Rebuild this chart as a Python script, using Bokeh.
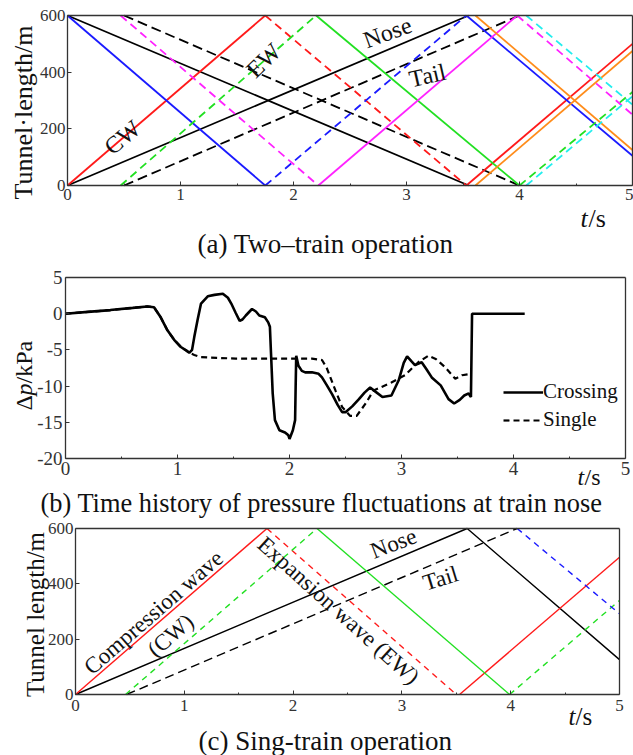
import math
from bokeh.plotting import figure
from bokeh.layouts import column
from bokeh.models import Label, FixedTicker, Range1d, Legend, LegendItem, LinearAxis
from bokeh.embed import file_html
from bokeh.resources import INLINE

SERIF = "Liberation Serif"

# ---------------- (a) Two-train operation : wave / train paths (t [s], x [m])
a_red_solid_t = [[0.0, 1.75], [3.53, 5.0]]
a_red_solid_x = [[0, 600], [0, 500]]
a_red_dash_t = [[1.75, 3.53]]
a_red_dash_x = [[600, 0]]
a_blue_solid_t = [[0.0, 1.75], [3.53, 5.0]]
a_blue_solid_x = [[600, 0], [600, 105]]
a_blue_dash_t = [[1.75, 3.53]]
a_blue_dash_x = [[0, 600]]
a_green_dash_t = [[0.47, 2.2], [4.0, 5.0]]
a_green_dash_x = [[0, 600], [0, 330]]
a_green_solid_t = [[2.2, 4.0]]
a_green_solid_x = [[600, 0]]
a_mag_dash_t = [[0.47, 2.22], [3.98, 5.0]]
a_mag_dash_x = [[600, 0], [600, 250]]
a_mag_solid_t = [[2.22, 3.98]]
a_mag_solid_x = [[0, 600]]
a_orange_t = [[3.61, 5.0], [3.61, 5.0]]
a_orange_x = [[0, 475], [600, 125]]
a_cyan_dash_t = [[4.06, 5.0], [4.06, 5.0]]
a_cyan_dash_x = [[0, 315], [600, 285]]
a_nose_t = [[0.0, 3.55], [0.0, 3.55]]
a_nose_x = [[0, 600], [600, 0]]
a_tail_t = [[0.5, 4.0], [0.5, 4.0]]
a_tail_x = [[0, 600], [600, 0]]

# ---------------- (b) pressure at train nose (t [s], dp [kPa])
cross_t = [0, 0.2, 0.4, 0.6, 0.73, 0.79, 0.85, 0.91, 0.97, 1.03, 1.08, 1.105, 1.13, 1.15,
           1.18, 1.21, 1.27, 1.33, 1.405, 1.45, 1.48, 1.52, 1.555, 1.58, 1.61, 1.665, 1.70,
           1.73, 1.78, 1.81, 1.825, 1.835, 1.85, 1.87, 1.91, 1.96, 1.99, 2.0, 2.03, 2.05,
           2.055, 2.06, 2.08, 2.11, 2.14, 2.20, 2.26, 2.29, 2.33, 2.38, 2.43, 2.47, 2.50,
           2.56, 2.62, 2.67, 2.72, 2.77, 2.83, 2.91, 2.975, 3.02, 3.05, 3.09, 3.12, 3.18,
           3.22, 3.27, 3.35, 3.42, 3.47, 3.52, 3.56, 3.60, 3.615, 3.62, 3.63, 4.10]
cross_p = [0, 0.25, 0.5, 0.8, 1.0, 0.9, -0.5, -2.3, -3.6, -4.6, -5.1, -5.4, -5.0, -3.2,
           -0.8, 1.4, 2.4, 2.6, 2.75, 2.2, 1.4, 0.1, -1.0, -0.8, -0.25, 0.65, 0.3,
           -0.25, -0.5, -1.2, -1.8, -5.5, -11.0, -14.7, -16.1, -16.4, -16.8, -17.3, -16.1, -14.7,
           -10.0, -5.8, -7.2, -7.9, -8.1, -8.1, -8.3, -8.8, -9.8, -11.1, -12.6, -13.6, -13.6,
           -12.8, -11.8, -10.9, -10.2, -10.8, -11.5, -11.3, -9.2, -6.8, -5.9, -6.6, -7.1, -6.7,
           -7.6, -8.8, -9.9, -11.8, -12.4, -11.9, -11.3, -11.0, -11.4, -11.5, 0, 0]
single_t = [0, 0.2, 0.4, 0.6, 0.73, 0.79, 0.85, 0.91, 0.97, 1.03, 1.08, 1.105, 1.15, 1.21,
            1.35, 1.52, 1.7, 1.9, 2.1, 2.20, 2.29, 2.33, 2.37, 2.41, 2.47, 2.54, 2.60, 2.68,
            2.75, 2.81, 2.91, 3.03, 3.15, 3.24, 3.31, 3.39, 3.48, 3.54, 3.62]
single_p = [0, 0.25, 0.5, 0.8, 1.0, 0.9, -0.5, -2.3, -3.6, -4.6, -5.1, -5.4, -5.7, -6.0,
            -6.1, -6.2, -6.2, -6.2, -6.2, -6.2, -6.4, -7.4, -9.0, -10.6, -12.9, -14.1, -14.1, -12.4,
            -10.6, -10.2, -9.5, -8.5, -6.7, -5.8, -6.3, -7.4, -9.0, -8.5, -8.3]

# ---------------- (c) Single-train operation
c_red_solid_t = [[0.0, 1.76], [3.53, 5.0]]
c_red_solid_x = [[0, 600], [0, 496]]
c_red_dash_t = [[1.76, 3.5]]
c_red_dash_x = [[600, 0]]
c_green_dash_t = [[0.46, 2.22], [3.99, 5.0]]
c_green_dash_x = [[0, 600], [0, 340]]
c_green_solid_t = [[2.22, 3.99]]
c_green_solid_x = [[600, 0]]
c_nose_t = [0.0, 3.6, 5.0]
c_nose_x = [0, 600, 126]
c_tail_t = [0.47, 4.06]
c_tail_x = [0, 600]
c_blue_dash_t = [4.06, 5.0]
c_blue_dash_x = [600, 292]

x_ticks = [0, 1, 2, 3, 4, 5]
x_minor = [0.5, 1.5, 2.5, 3.5, 4.5]
len_ticks = [0, 200, 400, 600]
dp_ticks = [-20, -15, -10, -5, 0, 5]

RED, BLUE, GREEN, MAG, ORANGE, CYAN = "#ff1a1a", "#1a1aff", "#22e022", "#ff22ff", "#ff8c1a", "#22eeee"
FULLW = 633
AXC = "#333333"


def panel(page_top, height, fx0, fx1, fy_top, fy_bot, x0, x1, y0, y1, yticks, tick_size,
          sox, soy):
    """Figure whose frame is the whole canvas; the visible box is drawn by axes placed at
    fixed data locations so that every text can live inside the frame."""
    sx = (fx1 - fx0) / (x1 - x0)
    sy = (fy_bot - fy_top) / (y1 - y0)
    xr = Range1d(x0 - fx0 / sx, x0 + (FULLW - fx0) / sx)
    yr = Range1d(y0 - (page_top + height - fy_bot) / sy, y1 + (fy_top - page_top) / sy)
    p = figure(width=FULLW, height=height, x_range=xr, y_range=yr, title=None,
               x_axis_location=None, y_axis_location=None, min_border=0,
               output_backend="svg", toolbar_location=None, frame_align=False)
    p.outline_line_color = None
    p.grid.visible = False

    def style(ax):
        ax.axis_line_color = AXC
        ax.axis_line_width = 1.3
        ax.major_tick_in = 4
        ax.major_tick_out = 0
        ax.minor_tick_in = 2
        ax.minor_tick_out = 0
        ax.major_tick_line_color = AXC
        ax.minor_tick_line_color = AXC
        ax.major_label_text_font = SERIF
        ax.major_label_text_font_size = tick_size
        ax.major_label_text_color = AXC

    xb = LinearAxis(fixed_location=y0, bounds=(x0, x1),
                    ticker=FixedTicker(ticks=x_ticks, minor_ticks=x_minor))
    style(xb)
    xb.major_label_standoff = sox
    yl = LinearAxis(fixed_location=x0, bounds=(y0, y1),
                    ticker=FixedTicker(ticks=yticks, minor_ticks=[]),
                    major_label_overrides={t: str(t) for t in yticks})
    style(yl)
    yl.major_label_standoff = soy
    xt = LinearAxis(fixed_location=y1, bounds=(x0, x1), ticker=FixedTicker(ticks=[]))
    style(xt)
    yrt = LinearAxis(fixed_location=x1, bounds=(y0, y1), ticker=FixedTicker(ticks=[]))
    style(yrt)
    p.add_layout(xb, "below")
    p.add_layout(yl, "left")
    p.add_layout(xt, "above")
    p.add_layout(yrt, "right")

    def conv(px, py):
        return (x0 + (px - fx0) / sx, y0 + (fy_bot - py) / sy)
    return p, conv


def txt(p, conv, px, py, text, size, angle=0.0, style="normal", align="center",
        baseline="middle"):
    x, y = conv(px, py)
    p.add_layout(Label(x=x, y=y, text=text, text_font=SERIF, text_font_size=size,
                       text_font_style=style, angle=angle, text_align=align,
                       text_baseline=baseline, text_color="#111111"))


# ======================= (a)   page y 0 .. 262
pa, A = panel(0, 262, 67, 632, 15, 185, 0, 5, 0, 600, len_ticks, "17px", 3, 2)
LW = 1.8
pa.multi_line(a_tail_t, a_tail_x, line_color="black", line_width=LW, line_dash="10 5")
pa.multi_line(a_nose_t, a_nose_x, line_color="black", line_width=LW)
pa.multi_line(a_red_solid_t, a_red_solid_x, line_color=RED, line_width=LW)
pa.multi_line(a_red_dash_t, a_red_dash_x, line_color=RED, line_width=LW, line_dash="8 5")
pa.multi_line(a_blue_solid_t, a_blue_solid_x, line_color=BLUE, line_width=LW)
pa.multi_line(a_blue_dash_t, a_blue_dash_x, line_color=BLUE, line_width=LW, line_dash="8 5")
pa.multi_line(a_green_dash_t, a_green_dash_x, line_color=GREEN, line_width=LW, line_dash="8 5")
pa.multi_line(a_green_solid_t, a_green_solid_x, line_color=GREEN, line_width=LW)
pa.multi_line(a_mag_dash_t, a_mag_dash_x, line_color=MAG, line_width=LW, line_dash="8 5")
pa.multi_line(a_mag_solid_t, a_mag_solid_x, line_color=MAG, line_width=LW)
pa.multi_line(a_orange_t, a_orange_x, line_color=ORANGE, line_width=LW)
pa.multi_line(a_cyan_dash_t, a_cyan_dash_x, line_color=CYAN, line_width=LW, line_dash="8 5")

txt(pa, A, 122, 137, "CW", "24px", angle=math.radians(40))
txt(pa, A, 263, 60, "EW", "24px", angle=math.radians(44))
txt(pa, A, 387, 32, "Nose", "24px", angle=math.radians(20))
txt(pa, A, 427, 75, "Tail", "24px", angle=math.radians(13))
txt(pa, A, 23, 112, "Tunnel\u00b7length/m", "26px", angle=math.pi / 2)
txt(pa, A, 580, 218, "t", "26px", style="italic", align="left")
txt(pa, A, 588, 218, "/s", "26px", align="left")
txt(pa, A, 197, 243, "(a) Two\u2013train operation", "27px", align="left")

# ======================= (b)   page y 262 .. 518
pb, B = panel(262, 256, 65, 625, 277, 458, 0, 5, -20, 5, dp_ticks, "19px", 3, 3)
r_cross = pb.line(cross_t, cross_p, line_color="black", line_width=2.6)
r_single = pb.line(single_t, single_p, line_color="black", line_width=2.2, line_dash="6 4")
legend = Legend(items=[LegendItem(label="Crossing", renderers=[r_cross]),
                       LegendItem(label="Single", renderers=[r_single])],
                location=(503, 86), label_text_font=SERIF, label_text_font_size="21px",
                label_text_color="#111111", glyph_width=40, glyph_height=22, label_height=22,
                label_standoff=0, spacing=3, padding=0, margin=0,
                border_line_alpha=0, background_fill_alpha=0)
pb.add_layout(legend)
txt(pb, B, 23, 410, "\u0394", "24px", angle=math.pi / 2, align="left")
txt(pb, B, 23, 395, "p", "24px", angle=math.pi / 2, align="left", style="italic")
txt(pb, B, 23, 383, "/kPa", "24px", angle=math.pi / 2, align="left")
txt(pb, B, 577, 476, "t", "24px", style="italic", align="left")
txt(pb, B, 584, 476, "/s", "24px", align="left")
txt(pb, B, 40, 502, "(b) Time history of pressure fluctuations at train nose", "26.4px",
    align="left")

# ======================= (c)   page y 518 .. 755
pc, C = panel(518, 237, 75, 619, 528, 694, 0, 5, 0, 600, len_ticks, "17px", 5, 2)
LWC = 1.4
pc.line(c_tail_t, c_tail_x, line_color="black", line_width=LWC, line_dash="9 5")
pc.line(c_nose_t, c_nose_x, line_color="black", line_width=LWC)
pc.multi_line(c_red_solid_t, c_red_solid_x, line_color=RED, line_width=LWC)
pc.multi_line(c_red_dash_t, c_red_dash_x, line_color=RED, line_width=LWC, line_dash="6 5")
pc.multi_line(c_green_dash_t, c_green_dash_x, line_color=GREEN, line_width=LWC, line_dash="6 5")
pc.multi_line(c_green_solid_t, c_green_solid_x, line_color=GREEN, line_width=LWC)
pc.line(c_blue_dash_t, c_blue_dash_x, line_color=BLUE, line_width=LWC, line_dash="6 5")

txt(pc, C, 153, 612, "Compression wave", "23px", angle=math.radians(41))
txt(pc, C, 170, 635, "(CW)", "23px", angle=math.radians(41))
txt(pc, C, 338, 610, "Expansion wave (EW)", "23px", angle=math.radians(-42))
txt(pc, C, 393, 543, "Nose", "23px", angle=math.radians(21))
txt(pc, C, 440, 578, "Tail", "23px", angle=math.radians(17))
txt(pc, C, 35, 614, "Tunnel length/m", "25px", angle=math.pi / 2)
txt(pc, C, 568, 716, "t", "25px", style="italic", align="left")
txt(pc, C, 575, 716, "/s", "25px", align="left")
txt(pc, C, 198, 740, "(c) Sing-train operation", "27px", align="left")

layout = column(pa, pb, pc, spacing=0)
open("out.html", "w").write(file_html(layout, INLINE))
